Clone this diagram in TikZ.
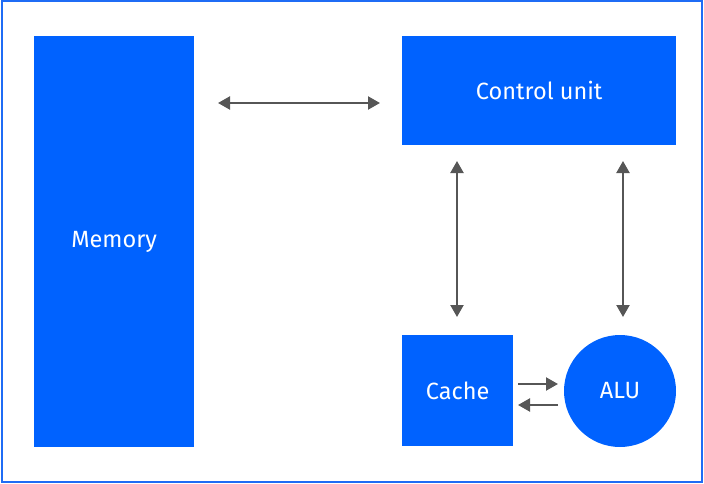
\documentclass[tikz,border=0pt]{standalone}
\usepackage{fontspec}
\setmainfont{Fira Sans}
\usetikzlibrary{arrows.meta}
\definecolor{ibmblue}{HTML}{0062FF}
\definecolor{framblue}{HTML}{1F6CF5}
\definecolor{arrowgray}{HTML}{565656}
\begin{document}
\begin{tikzpicture}[x=1pt,y=-1pt,
  blockbox/.style={fill=ibmblue,draw=none,text=white,font=\fontsize{23.5}{26}\selectfont,inner sep=0pt,anchor=north west},
  link/.style={draw=arrowgray,line width=2.2pt,{Triangle[length=12pt,width=13pt]}-{Triangle[length=12pt,width=13pt]}},
  onelink/.style={draw=arrowgray,line width=2.2pt,-{Triangle[length=12pt,width=13pt]}}]
\useasboundingbox (0,0) rectangle (704,484);
\draw[framblue,line width=2pt] (1.5,1.5) rectangle (702,481.5);
\node[blockbox,minimum width=160pt,minimum height=411pt] (mem) at (34,36) {Memory};
\node[blockbox,minimum width=274pt,minimum height=109pt] (cu) at (402,36) {Control unit};
\node[blockbox,minimum width=111pt,minimum height=111pt] (cache) at (402,335) {Cache};
\node[fill=ibmblue,circle,minimum size=112pt,inner sep=0pt,text=white,font=\fontsize{23.5}{26}\selectfont] (alu) at (620,391) {ALU};
\coordinate (a1) at (218,103);
\coordinate (a2) at (380,103);
\draw[link] (a1) -- (a2);
\coordinate (b1) at (457,161);
\coordinate (b2) at (457,317);
\draw[link] (b1) -- (b2);
\coordinate (c1) at (623,161);
\coordinate (c2) at (623,317);
\draw[link] (c1) -- (c2);
\coordinate (d1) at (518,384);
\coordinate (d2) at (558,384);
\draw[onelink] (d1) -- (d2);
\coordinate (e1) at (558,405);
\coordinate (e2) at (518,405);
\draw[onelink] (e1) -- (e2);
\end{tikzpicture}
\end{document}
